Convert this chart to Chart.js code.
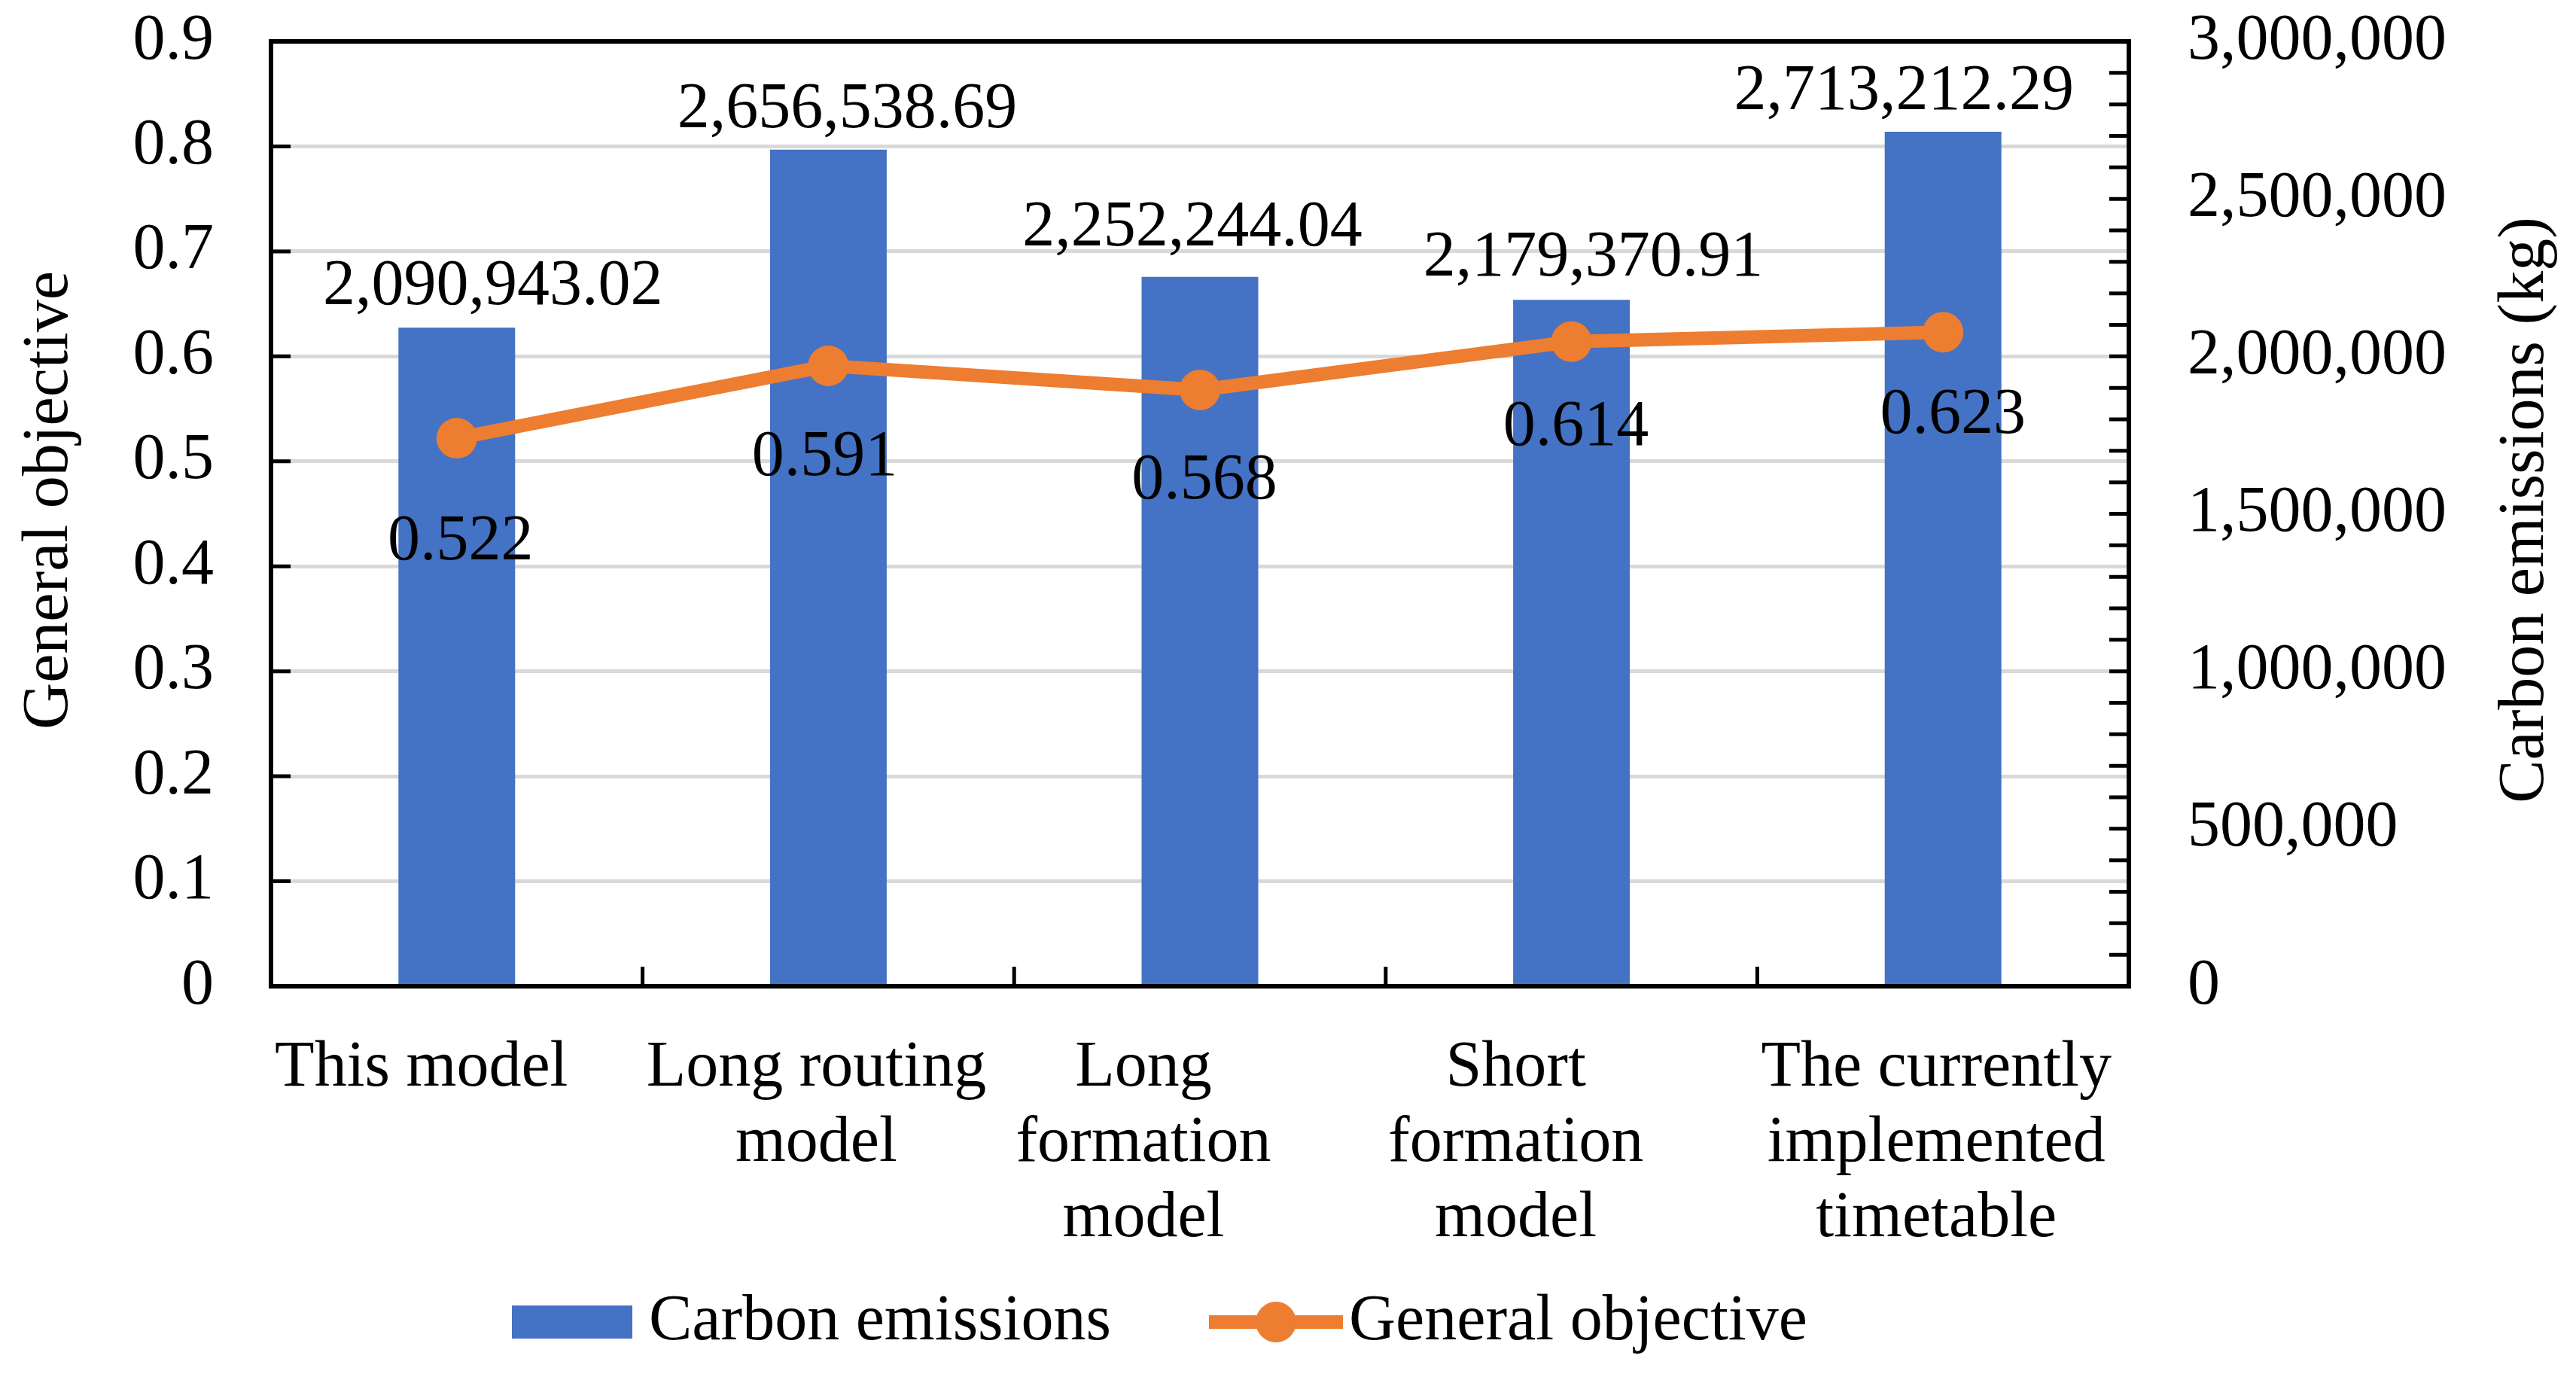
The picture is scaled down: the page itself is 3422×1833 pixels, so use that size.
<!DOCTYPE html>
<html>
<head>
<meta charset="utf-8">
<script src="https://cdn.jsdelivr.net/npm/chart.js@4.4.1/dist/chart.umd.min.js"></script>
<style>
  html, body { margin: 0; padding: 0; background: #ffffff; }
  canvas { display: block; }
</style>
</head>
<body>
<canvas id="c" width="3422" height="1833"></canvas>
<script>
// ---------------- data ----------------
const categories = [
  ['This model'],
  ['Long routing', 'model'],
  ['Long', 'formation', 'model'],
  ['Short', 'formation', 'model'],
  ['The currently', 'implemented', 'timetable']
];
const carbonEmissions = [2090943.02, 2656538.69, 2252244.04, 2179370.91, 2713212.29];
const generalObjective = [0.522, 0.591, 0.568, 0.614, 0.623];
const leftTickLabels = ['0', '0.1', '0.2', '0.3', '0.4', '0.5', '0.6', '0.7', '0.8', '0.9'];
const rightTickLabels = ['0', '500,000', '1,000,000', '1,500,000', '2,000,000', '2,500,000', '3,000,000'];
const seriesNames = ['Carbon emissions', 'General objective'];
const axisTitles = ['General objective', 'Carbon emissions (kg)'];

// ---------------- styling (label nudges in px, not data) ----------------
const FONT = '"Liberation Serif", "Times New Roman", serif';
const FS = 86;
const BLUE = '#4472C4';
const ORANGE = '#ED7D31';
const barLabelNudge = [[48, -31], [25, -30], [-10, -42], [29, -32], [-52, -30]];
const lineLabelNudge = [[5, 161], [-5, 145], [6, 144], [6, 137], [13, 134]];
const catLabelNudge = [-47, -16, -75, -74, -9];

const overlay = {
  id: 'overlay',
  afterDatasetsDraw(chart) {
    const ctx = chart.ctx;
    const a = chart.chartArea;
    const xs = chart.scales.x, yL = chart.scales.yL, yR = chart.scales.yR;
    ctx.save();
    ctx.strokeStyle = '#000';
    ctx.lineWidth = 5;
    ctx.lineCap = 'butt';
    ctx.beginPath();
    yL.ticks.forEach(t => {
      const y = yL.getPixelForValue(t.value);
      ctx.moveTo(a.left, y); ctx.lineTo(a.left + 26, y);
    });
    for (let v = yR.min; v <= yR.max + 1; v += 100000) {
      const y = yR.getPixelForValue(v);
      ctx.moveTo(a.right - 26, y); ctx.lineTo(a.right, y);
    }
    for (let i = 0; i < categories.length - 1; i++) {
      const px = (xs.getPixelForTick(i) + xs.getPixelForTick(i + 1)) / 2;
      ctx.moveTo(px, a.bottom - 26); ctx.lineTo(px, a.bottom);
    }
    ctx.stroke();
    ctx.lineWidth = 6;
    ctx.strokeRect(a.left, a.top, a.right - a.left, a.bottom - a.top);

    // data labels
    ctx.fillStyle = '#000';
    ctx.font = FS + 'px ' + FONT;
    ctx.textAlign = 'center';
    ctx.textBaseline = 'alphabetic';
    const barMeta = chart.getDatasetMeta(0);
    barMeta.data.forEach((el, i) => {
      const txt = carbonEmissions[i].toLocaleString('en-US', {minimumFractionDigits: 2, maximumFractionDigits: 2});
      ctx.fillText(txt, el.x + barLabelNudge[i][0], el.y + barLabelNudge[i][1]);
    });
    const lineMeta = chart.getDatasetMeta(1);
    lineMeta.data.forEach((el, i) => {
      const txt = generalObjective[i].toFixed(3);
      ctx.fillText(txt, el.x + lineLabelNudge[i][0], el.y + lineLabelNudge[i][1]);
    });
    ctx.restore();
  },
  afterDraw(chart) {
    const ctx = chart.ctx;
    const a = chart.chartArea;
    const xs = chart.scales.x;
    ctx.save();
    ctx.fillStyle = '#000';
    ctx.font = FS + 'px ' + FONT;
    ctx.textAlign = 'center';
    ctx.textBaseline = 'middle';
    // category labels
    categories.forEach((lines, i) => {
      const cx = xs.getPixelForTick(i) + catLabelNudge[i];
      lines.forEach((ln, j) => {
        ctx.fillText(ln, cx, a.bottom + 109 + j * 100);
      });
    });
    // axis titles
    ctx.save();
    ctx.translate(66, (a.top + a.bottom) / 2 - 18);
    ctx.rotate(-Math.PI / 2);
    ctx.fillText(axisTitles[0], 0, 0);
    ctx.restore();
    ctx.save();
    ctx.translate(3355, (a.top + a.bottom) / 2 - 5);
    ctx.rotate(-Math.PI / 2);
    ctx.fillText(axisTitles[1], 0, 0);
    ctx.restore();
    // legend
    const ly = 1756;
    ctx.fillStyle = chart.data.datasets[0].backgroundColor;
    ctx.fillRect(680, ly - 22, 160, 44);
    ctx.strokeStyle = chart.data.datasets[1].borderColor;
    ctx.lineWidth = 18;
    ctx.beginPath();
    ctx.moveTo(1606, ly); ctx.lineTo(1784, ly);
    ctx.stroke();
    ctx.fillStyle = chart.data.datasets[1].pointBackgroundColor;
    ctx.beginPath();
    ctx.arc(1695, ly, 27, 0, Math.PI * 2);
    ctx.fill();
    ctx.fillStyle = '#000';
    ctx.textAlign = 'left';
    ctx.fillText(seriesNames[0], 862, ly);
    ctx.fillText(seriesNames[1], 1792, ly);
    ctx.restore();
  }
};

function fixVertical(width) {
  return function (s) {
    s.width = width;
    s.paddingTop = 0;
    s.paddingBottom = 0;
  };
}

new Chart(document.getElementById('c'), {
  data: {
    labels: categories,
    datasets: [
      {
        type: 'bar',
        label: seriesNames[0],
        data: carbonEmissions,
        yAxisID: 'yR',
        backgroundColor: BLUE,
        borderWidth: 0,
        categoryPercentage: 1,
        barPercentage: 0.314,
        order: 2
      },
      {
        type: 'line',
        label: seriesNames[1],
        data: generalObjective,
        yAxisID: 'yL',
        borderColor: ORANGE,
        backgroundColor: ORANGE,
        borderWidth: 18,
        borderCapStyle: 'round',
        borderJoinStyle: 'round',
        pointRadius: 27,
        pointHoverRadius: 27,
        pointBackgroundColor: ORANGE,
        pointBorderColor: ORANGE,
        pointBorderWidth: 0,
        tension: 0,
        fill: false,
        order: 1
      }
    ]
  },
  options: {
    responsive: false,
    devicePixelRatio: 1,
    animation: false,
    layout: { padding: { top: 55, left: 0, right: 0, bottom: 0 } },
    plugins: { legend: { display: false }, title: { display: false }, tooltip: { enabled: false } },
    scales: {
      x: {
        type: 'category',
        ticks: { display: false },
        grid: { display: false },
        border: { display: false },
        afterFit(s) { s.height = 523; s.paddingLeft = 0; s.paddingRight = 0; }
      },
      yL: {
        type: 'linear',
        position: 'left',
        min: 0, max: 0.9,
        ticks: {
          stepSize: 0.1,
          padding: 76,
          color: '#000',
          font: { family: FONT, size: FS, lineHeight: 1 },
          callback: (v, i) => leftTickLabels[i]
        },
        grid: { color: '#D9D9D9', lineWidth: 5, drawTicks: false },
        border: { display: false },
        afterFit: fixVertical(360)
      },
      yR: {
        type: 'linear',
        position: 'right',
        min: 0, max: 3000000,
        ticks: {
          stepSize: 500000,
          padding: 78,
          color: '#000',
          font: { family: FONT, size: FS, lineHeight: 1 },
          callback: (v, i) => rightTickLabels[i]
        },
        grid: { display: false, drawTicks: false },
        border: { display: false },
        afterFit: fixVertical(594)
      }
    }
  },
  plugins: [overlay]
});
</script>
</body>
</html>
